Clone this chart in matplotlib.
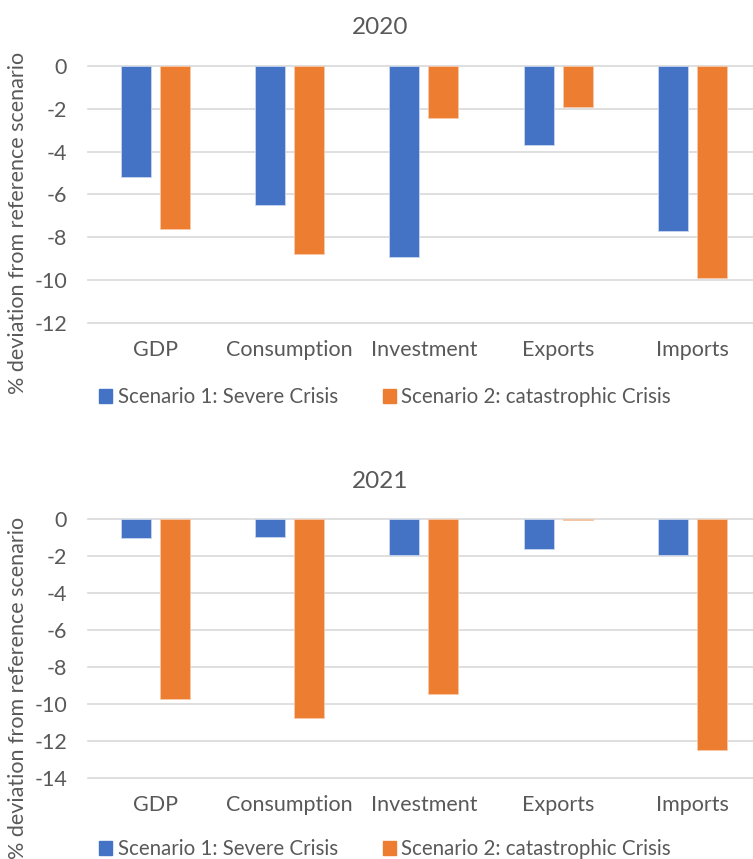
import matplotlib.pyplot as plt
import numpy as np
from matplotlib.patches import Patch

plt.rcParams['font.family'] = ['Lato', 'DejaVu Sans']

categories = ['GDP', 'Consumption', 'Investment', 'Exports', 'Imports']
series_names = ['Scenario 1: Severe Crisis', 'Scenario 2: catastrophic Crisis']
sev_2020 = [-5.2, -6.5, -8.9, -3.7, -7.7]
cat_2020 = [-7.6, -8.8, -2.45, -1.9, -9.9]
sev_2021 = [-1.05, -0.95, -1.95, -1.6, -1.95]
cat_2021 = [-9.75, -10.75, -9.45, -0.08, -12.5]
yticks_2020 = [0, -2, -4, -6, -8, -10, -12]
yticks_2021 = [0, -2, -4, -6, -8, -10, -12, -14]

blue = '#4472C4'
orange = '#ED7D31'
grey = '#595959'
W, H = 753, 859
fs = 15.5

fig = plt.figure(figsize=(W / 100, H / 100), dpi=100)


def panel(top, bottom, title, s1, s2, yticks, label_y, legend_y):
    ax = fig.add_axes([88 / W, 1 - bottom / H, 1 - 88 / W, (bottom - top) / H])
    x = np.arange(len(categories))
    ax.bar(x - 0.145, s1, 0.225, color=blue, edgecolor='#c9d6ee', linewidth=0.6, zorder=3)
    ax.bar(x + 0.145, s2, 0.225, color=orange, edgecolor='#f6c9aa', linewidth=0.6, zorder=3)
    ax.set_xlim(-0.5, 4.45)
    ax.set_ylim(min(yticks), 0)
    ax.set_yticks(yticks)
    ax.set_yticklabels([str(t) if t == 0 else '-' + str(-t) for t in yticks])
    for t in yticks:
        ax.axhline(t, color='#d9d9d9', linewidth=1.2, zorder=0, clip_on=False)
    ax.set_xticks(x)
    ax.set_xticklabels(categories)
    ax.tick_params(length=0, labelsize=fs, colors=grey)
    ax.tick_params(axis='x', pad=12)
    ax.tick_params(axis='y', pad=15)
    for s in ax.spines.values():
        s.set_visible(False)
    fig.text(380 / W, 1 - (top - 38) / H, title, ha='center', va='center',
             fontsize=17.5, color=grey)
    fig.text(18 / W, 1 - label_y / H, '% deviation from reference scenario',
             rotation=90, ha='center', va='center', fontsize=fs, color=grey)
    handles = [Patch(color=blue), Patch(color=orange)]
    fig.legend(handles, series_names, loc='center', ncol=2, frameon=False,
               bbox_to_anchor=(385 / W, 1 - legend_y / H), fontsize=14.8,
               labelcolor=grey, handlelength=0.65, handleheight=0.65,
               handletextpad=0.25, columnspacing=2.2)
    return ax


panel(66, 323, '2020', sev_2020, cat_2020, yticks_2020, 223, 397)
panel(519, 778, '2021', sev_2021, cat_2021, yticks_2021, 688, 849)

fig.savefig('out.png', dpi=100)
